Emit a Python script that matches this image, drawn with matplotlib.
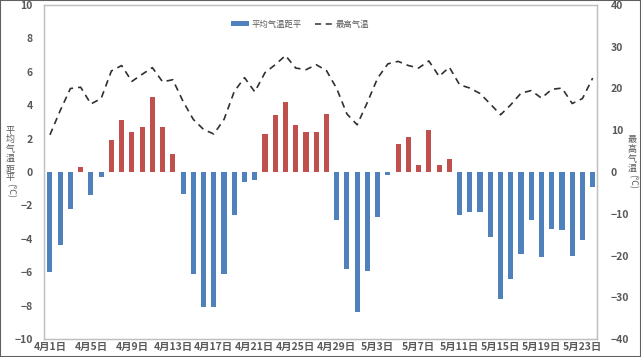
import matplotlib
matplotlib.use("Agg")
import matplotlib.pyplot as plt
from matplotlib.lines import Line2D
from matplotlib.patches import Patch, Rectangle
import numpy as np

plt.rcParams['font.family'] = ['Noto Sans CJK SC', 'DejaVu Sans']

# dates 4/1 .. 5/24
dates = [f"4月{d}日" for d in range(1, 31)] + [f"5月{d}日" for d in range(1, 25)]

# mean temperature anomaly (left axis, ℃)
anomaly = [-6.0, -4.4, -2.2, 0.3, -1.4, -0.3,
           1.9, 3.1, 2.4, 2.7, 4.5, 2.7, 1.1,
           -1.3, -6.1, -8.1, -8.1, -6.1, -2.6, -0.6, -0.5,
           2.3, 3.4, 4.2, 2.8, 2.4, 2.4, 3.5,
           -2.9, -5.8, -8.4, -5.9, -2.7, -0.15,
           1.7, 2.1, 0.4, 2.5, 0.4, 0.8,
           -2.6, -2.4, -2.4, -3.9, -7.6, -6.4, -4.9, -2.9, -5.1, -3.4, -3.5, -5.0, -4.1, -0.9]

# maximum temperature (right axis, ℃)
tmax = [8.9, 14.7, 20.0, 20.3, 16.3, 17.6, 24.2, 25.5, 21.7, 23.4, 25.0, 21.6, 22.1,
        16.9, 12.6, 10.2, 9.1, 12.6, 19.3, 22.6, 19.2, 23.8, 25.7, 27.9, 24.9, 24.5,
        25.7, 24.3, 20.0, 13.9, 11.3, 16.7, 22.5, 25.9, 26.5, 25.5, 24.9, 26.6, 22.9,
        25.1, 20.9, 20.1, 18.8, 16.3, 13.7, 16.1, 18.9, 19.5, 17.7, 19.8, 20.1, 16.4,
        17.6, 22.5]

left_ticks = list(range(-10, 11, 2))
right_ticks = list(range(-40, 41, 10))
left_title = "平均气温距平"
right_title = "最高气温"

BLUE = '#4F81BD'
RED = '#C0504D'
TXT = '#595959'

fig = plt.figure(figsize=(6.41, 3.57), dpi=100)
ax = fig.add_axes([44/641, 1-339/357, (597-44)/641, (339-5)/357])
ax2 = ax.twinx()

x = np.arange(len(dates))
colors = [RED if v > 0 else BLUE for v in anomaly]
ax.bar(x, anomaly, width=0.5, color=colors, zorder=2)
ax2.plot(x, tmax, color='#303030', lw=1.2, dashes=(4, 3), zorder=3)

ax.set_xlim(-0.58, len(dates) - 0.58)
ax.set_ylim(-10, 10)
ax2.set_ylim(-40, 40)
ax.set_yticks(left_ticks)
ax2.set_yticks(right_ticks)
ax.set_xticks(x[::4])
ax.set_xticklabels(dates[::4])

for a in (ax, ax2):
    for s in a.spines.values():
        s.set_color('#BFBFBF')
        s.set_linewidth(0.9)
    a.tick_params(length=0, labelsize=7.5, colors=TXT)
for lab in ax.get_yticklabels() + ax2.get_yticklabels() + ax.get_xticklabels():
    lab.set_fontweight('bold')
ax.tick_params(axis='y', pad=8)
ax2.tick_params(axis='y', pad=10)
ax.tick_params(axis='x', pad=2)


def stacked(xpix, ytop, title, step=9.6):
    y = ytop
    for ch in title:
        fig.text(xpix/641, 1-y/357, ch, ha='center', va='center', fontsize=6.5, color=TXT)
        y += step
    fig.text(xpix/641, 1-(y+3)/357, "(℃)", ha='center', va='center', rotation=-90,
             fontsize=6.5, color=TXT)


stacked(10, 130, left_title)
stacked(632, 140, right_title)

handles = [Patch(facecolor=BLUE), Line2D([0], [0], color='#303030', lw=1.1, dashes=(4, 3))]
fig.legend(handles, ["平均气温距平", "最高气温"], loc='center', bbox_to_anchor=(300/641, 1-24/357),
           ncol=2, frameon=False, fontsize=6, handlelength=2.2, handleheight=0.5,
           columnspacing=1.5, handletextpad=0.3, labelcolor=TXT)

# thin outer frame of the screenshot
fig.patches.append(Rectangle((0, 0), 1, 1, transform=fig.transFigure, fill=False,
                             edgecolor='#606060', lw=1.5))

fig.savefig("out.png", dpi=100)
